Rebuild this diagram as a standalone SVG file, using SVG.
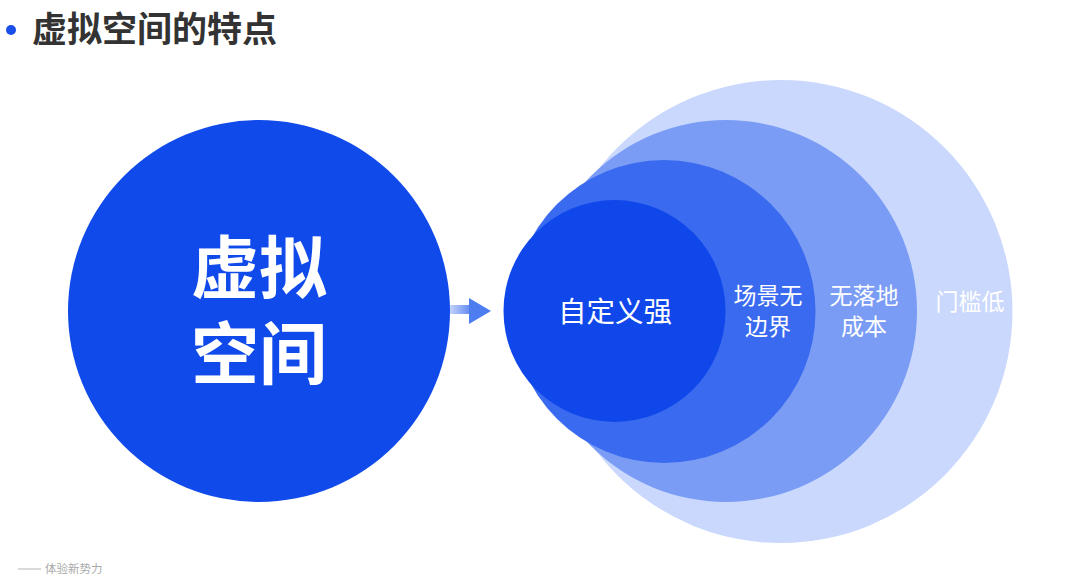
<svg xmlns="http://www.w3.org/2000/svg" width="1080" height="586" viewBox="0 0 1080 586">
<defs>
<style>
.cjk{font-family:"Noto Sans CJK SC","Noto Sans",sans-serif;}
.w{fill:#ffffff;text-anchor:middle;}
</style>
<linearGradient id="shaft" x1="0" y1="0" x2="1" y2="0">
<stop offset="0" stop-color="#c3d3fb"/>
<stop offset="1" stop-color="#5a84f1"/>
</linearGradient>
</defs>
<rect width="1080" height="586" fill="#ffffff"/>
<g id="title">
<circle cx="11" cy="30" r="5" fill="#1a4ee8"/>
<text x="32" y="42" class="cjk" font-size="35" font-weight="700" fill="#333333">虚拟空间的特点</text>
</g>
<g id="virtual-space">
<circle cx="259" cy="311" r="191" fill="#104aea"/>
<text x="259" y="293" class="cjk w" font-size="68" font-weight="700">虚拟</text>
<text x="259" y="379" class="cjk w" font-size="68" font-weight="700">空间</text>
</g>
<g id="connectors">
<rect x="450" y="305" width="22" height="9" fill="url(#shaft)"/>
<polygon points="469,298 491,311 469,324" fill="#4e7cf1"/>
</g>
<g id="ring-low-threshold">
<circle cx="781" cy="311.5" r="231.5" fill="#c9d8fc"/>
<text x="970" y="310" class="cjk w" font-size="23">门槛低</text>
</g>
<g id="ring-no-landing-cost">
<circle cx="726" cy="311" r="191" fill="#7a9cf5"/>
<text x="864" y="304" class="cjk w" font-size="23">无落地</text>
<text x="864" y="335" class="cjk w" font-size="23">成本</text>
</g>
<g id="ring-no-boundary">
<circle cx="664" cy="311.5" r="151.5" fill="#3a6aef"/>
<text x="768" y="304" class="cjk w" font-size="23">场景无</text>
<text x="768" y="335" class="cjk w" font-size="23">边界</text>
</g>
<g id="ring-customizable">
<circle cx="614.5" cy="311" r="111" fill="#0f47ea"/>
<text x="615" y="322" class="cjk w" font-size="28.5">自定义强</text>
</g>
<g id="footer">
<line x1="18" y1="569" x2="41" y2="569" stroke="#b5b5b5" stroke-width="1"/>
<text x="45" y="573" class="cjk" font-size="11.5" fill="#aaaaaa">体验新势力</text>
</g>
</svg>
